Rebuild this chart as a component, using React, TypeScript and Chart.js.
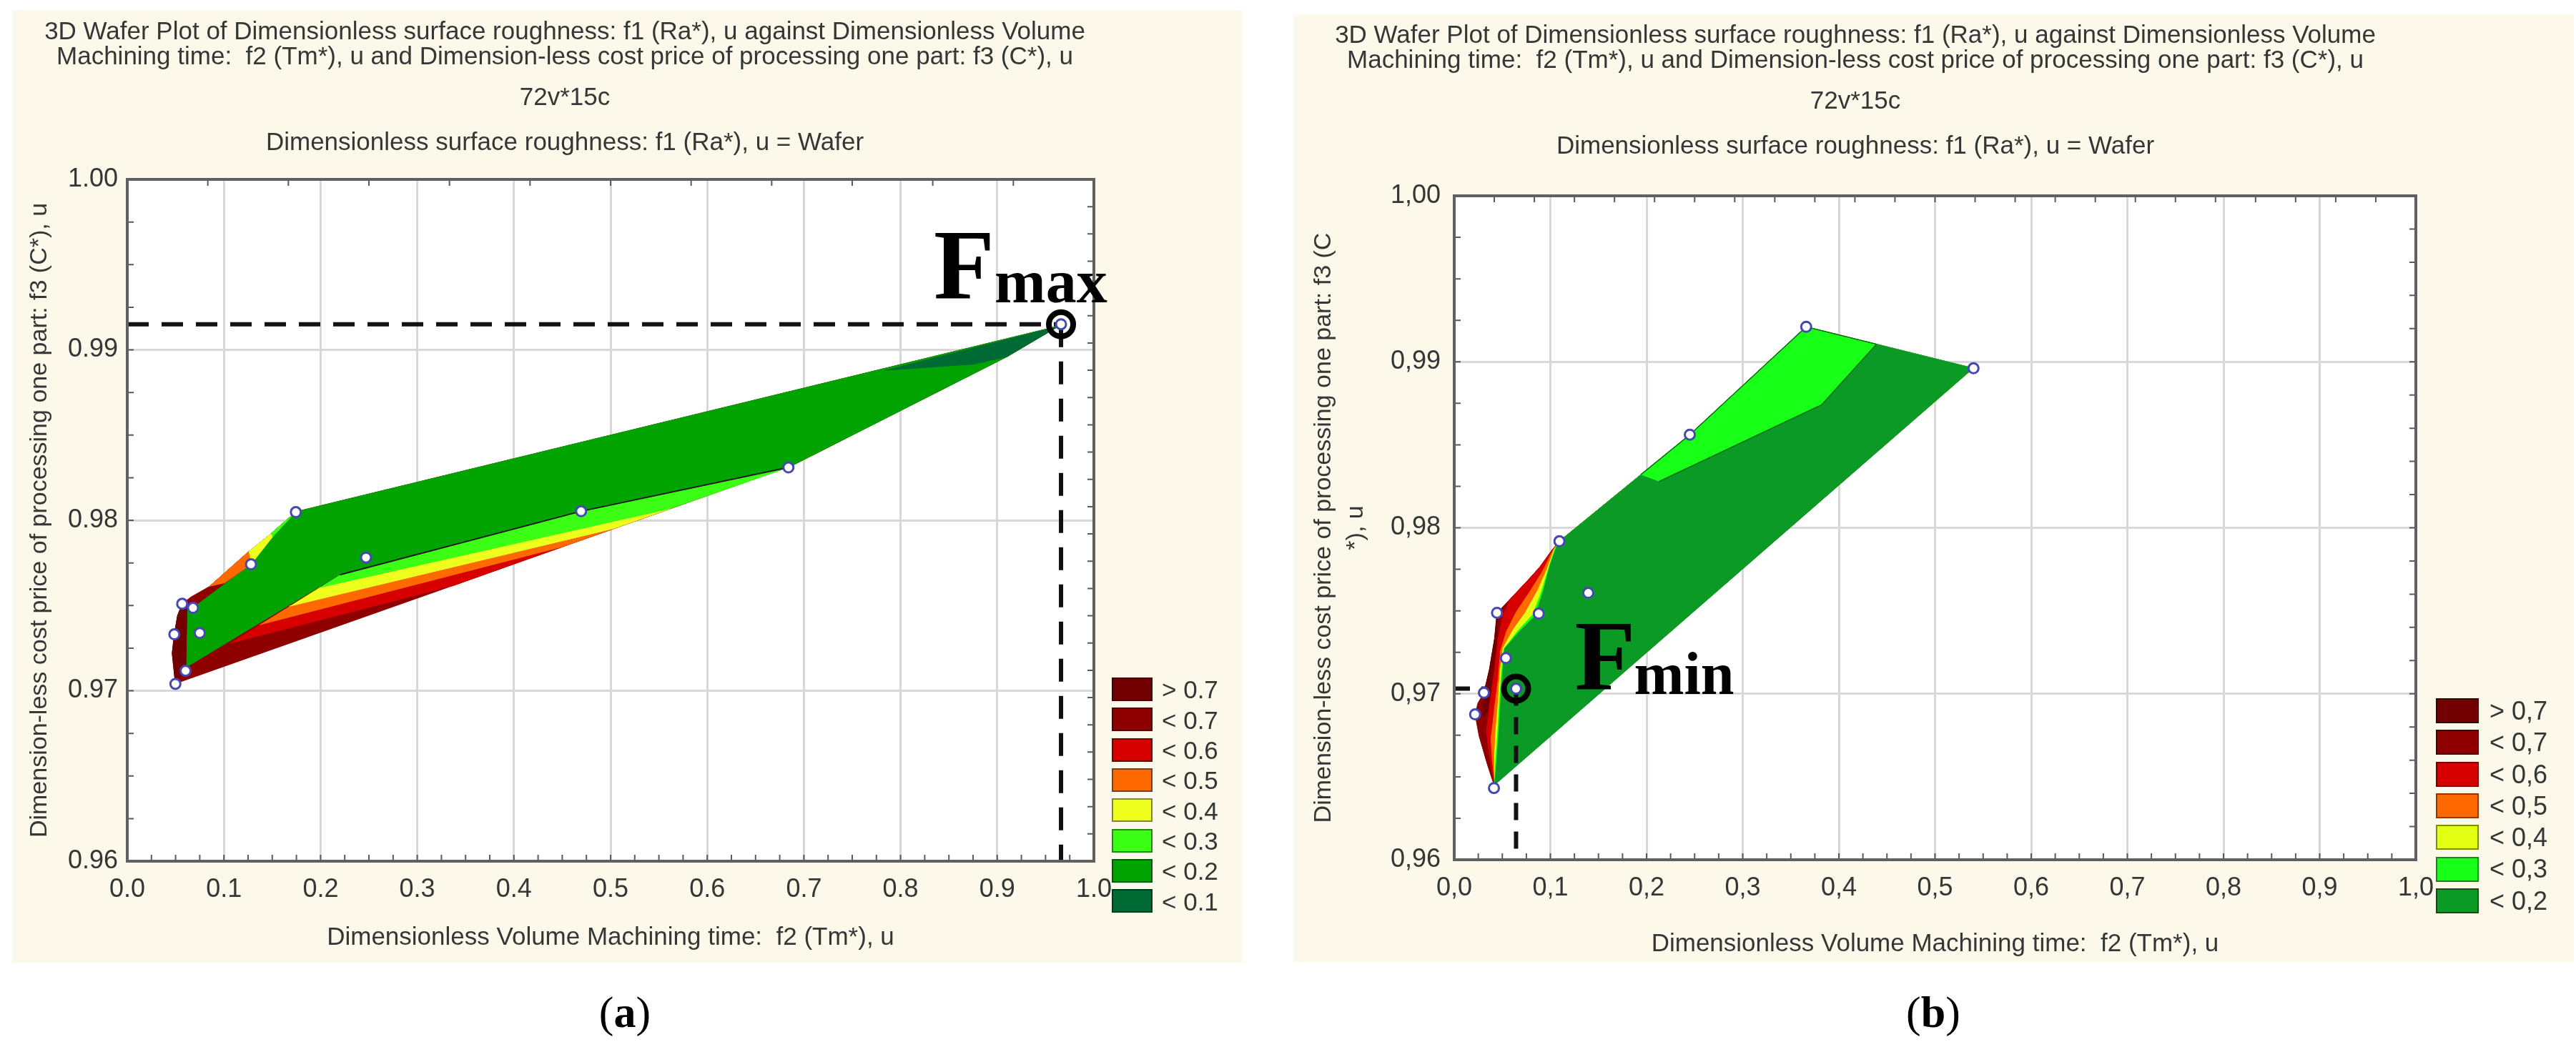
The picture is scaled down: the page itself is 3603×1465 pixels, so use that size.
import React, { useEffect, useRef } from 'react';
import { Chart, registerables } from 'chart.js';

Chart.register(...registerables);

const SANS = '"Liberation Sans", Arial, Helvetica, sans-serif';
const SERIF = '"Liberation Serif", "Times New Roman", Times, serif';
const TEXT = '#363636';
const BEIGE = '#fcf8ea';
const GRID = '#d8d8d8';
Chart.defaults.font.family = SANS;

// ---------------- text ----------------
const TITLE_LINES = [
  '3D Wafer Plot of Dimensionless surface roughness: f1 (Ra*), u against Dimensionless Volume',
  'Machining time:  f2 (Tm*), u and Dimension-less cost price of processing one part: f3 (C*), u',
  '72v*15c',
];
const SUBTITLE = 'Dimensionless surface roughness: f1 (Ra*), u = Wafer';
const X_TITLE = 'Dimensionless Volume Machining time:  f2 (Tm*), u';
const Y_TITLE_A = 'Dimension-less cost price of processing one part: f3 (C*), u';
const Y_TITLE_B = ['Dimension-less cost price of processing one part: f3 (C', '*), u'];

// ---------------- axes ----------------
const X_TICK_VALUES = [0, 0.1, 0.2, 0.3, 0.4, 0.5, 0.6, 0.7, 0.8, 0.9, 1.0];
const Y_TICK_VALUES = [0.96, 0.97, 0.98, 0.99, 1.0];

// ---------------- legends ----------------
const LEGEND_A_LABELS = ['> 0.7', '< 0.7', '< 0.6', '< 0.5', '< 0.4', '< 0.3', '< 0.2', '< 0.1'];
const LEGEND_A_COLORS = ['#720000', '#8e0000', '#d60000', '#ff6a00', '#eeff1e', '#3cff16', '#00a300', '#006a34'];
const LEGEND_B_LABELS = ['> 0,7', '< 0,7', '< 0,6', '< 0,5', '< 0,4', '< 0,3', '< 0,2'];
const LEGEND_B_COLORS = ['#720000', '#8e0000', '#d60000', '#ff6a00', '#e2ff14', '#18ff18', '#0c9a26'];

// ---------------- panel (a) data ----------------
const A_POINTS_X = [0.0498, 0.0603, 0.0487, 0.0568, 0.068, 0.075, 0.128, 0.1744, 0.247, 0.4695, 0.684, 0.966];
const A_POINTS_Y = [0.9704, 0.97117, 0.97331, 0.9751, 0.97486, 0.97339, 0.97742, 0.98048, 0.97781, 0.98053, 0.9831, 0.9915];
const A_FMAX: [number, number] = [0.966, 0.9915];

const A_HULL = [[0.0498, 0.9704], [0.0465, 0.9722], [0.0487, 0.9733], [0.052, 0.9744], [0.0568, 0.9751], [0.066, 0.9755], [0.0846, 0.9761], [0.1253, 0.97815], [0.1485, 0.97921], [0.1744, 0.9805], [0.964, 0.9914], [0.9098, 0.98959], [0.684, 0.9831]];
const A_DARKEST = [[0.0498, 0.9704], [0.0465, 0.9722], [0.0487, 0.9733], [0.052, 0.9744], [0.0568, 0.9751], [0.0612, 0.975], [0.0612, 0.9713]];
const A_RED = [[0.1059, 0.97278], [0.338, 0.97618], [0.45, 0.97845], [0.1369, 0.97387]];
const A_ORANGE = [[0.1369, 0.97387], [0.45, 0.97845], [0.504, 0.97953], [0.1678, 0.97496]];
const A_YELLOW = [[0.1678, 0.97496], [0.504, 0.97953], [0.5624, 0.9807], [0.1987, 0.97605]];
const A_LGREEN = [[0.1987, 0.97605], [0.5624, 0.9807], [0.684, 0.9831], [0.4695, 0.98053], [0.22, 0.9768]];
const A_GREEN = [[0.0614, 0.97137], [0.0625, 0.9747], [0.068, 0.97486], [0.128, 0.97742], [0.15, 0.979], [0.1744, 0.9805], [0.964, 0.9914], [0.9098, 0.98959], [0.684, 0.9831], [0.4695, 0.98053], [0.22, 0.9768]];
const A_SLIVER_ORANGE = [[0.0846, 0.9761], [0.1253, 0.97815], [0.128, 0.97742], [0.1, 0.9763]];
const A_SLIVER_YELLOW = [[0.1253, 0.97815], [0.1485, 0.97921], [0.15, 0.979], [0.128, 0.97742]];
const A_SLIVER_LGREEN = [[0.1485, 0.97921], [0.1744, 0.9805], [0.15, 0.979]];
const A_DARKGREEN = [[0.7838, 0.9888], [0.876, 0.98916], [0.9098, 0.98959], [0.964, 0.9914]];
const A_EDGE = [[0.22, 0.9768], [0.4695, 0.98053], [0.684, 0.9831]];

// ---------------- panel (b) data ----------------
const B_POINTS_X = [0.366, 0.54, 0.245, 0.1094, 0.1394, 0.0445, 0.0879, 0.0537, 0.0309, 0.0643, 0.0217, 0.0413];
const B_POINTS_Y = [0.99211, 0.98961, 0.98561, 0.97919, 0.97608, 0.97488, 0.97483, 0.97215, 0.97006, 0.97031, 0.96876, 0.96432];
const B_FMIN: [number, number] = [0.0643, 0.97031];

const B_HULL = [[0.0415, 0.96449], [0.0346, 0.96571], [0.0259, 0.96744], [0.0217, 0.96876], [0.0247, 0.96945], [0.0309, 0.97006], [0.0366, 0.97146], [0.042, 0.97333], [0.0445, 0.97488], [0.0581, 0.9757], [0.0767, 0.97684], [0.0891, 0.97764], [0.1015, 0.97864], [0.1094, 0.97919], [0.245, 0.98561], [0.366, 0.99211], [0.54, 0.98961]];
const B_DARKEST = [[0.0309, 0.97006], [0.0366, 0.97146], [0.042, 0.97333], [0.0445, 0.97488], [0.0445, 0.9735], [0.0405, 0.9712], [0.0365, 0.969], [0.03, 0.9686]];
const B_TAIL = [[0.245, 0.98561], [0.366, 0.99211], [0.54, 0.98961]];
const B_RED_EDGE = [[0.0415, 0.96456], [0.0366, 0.96629], [0.0333, 0.96772], [0.0371, 0.96945], [0.042, 0.97146], [0.0457, 0.97333], [0.0507, 0.97476], [0.0581, 0.9757], [0.0767, 0.97685], [0.0891, 0.97764], [0.1015, 0.97864], [0.1094, 0.97919]];
const B_ORANGE_EDGE = [[0.042, 0.9647], [0.0395, 0.96614], [0.0383, 0.96729], [0.042, 0.96916], [0.0457, 0.97088], [0.0482, 0.97261], [0.0544, 0.97376], [0.0643, 0.97491], [0.0792, 0.9762], [0.0916, 0.97735], [0.1027, 0.97864], [0.1094, 0.97919]];
const B_YELLOW_EDGE = [[0.042, 0.96463], [0.042, 0.96629], [0.0432, 0.96772], [0.0457, 0.96945], [0.0475, 0.97117], [0.0507, 0.97275], [0.0618, 0.9739], [0.0742, 0.97491], [0.0866, 0.9762], [0.0965, 0.97749], [0.104, 0.97871], [0.1094, 0.97919]];
const B_LGREEN_EDGE = [[0.042, 0.96456], [0.0432, 0.96614], [0.0452, 0.96772], [0.047, 0.96945], [0.049, 0.97117], [0.0514, 0.97268], [0.0668, 0.97383], [0.0817, 0.97476], [0.0903, 0.97606], [0.0978, 0.97749], [0.1052, 0.97879], [0.1094, 0.97919]];
const B_GREEN_EDGE = [[0.042, 0.96449], [0.0445, 0.96614], [0.0465, 0.96772], [0.0482, 0.96945], [0.0502, 0.97117], [0.0527, 0.97275], [0.068, 0.97376], [0.0841, 0.97469], [0.0928, 0.9762], [0.0998, 0.97778], [0.1065, 0.97886], [0.1094, 0.97919]];
const B_LIGHT = [[0.194, 0.9832], [0.245, 0.98561], [0.366, 0.99211], [0.439, 0.99106], [0.382, 0.98741], [0.213, 0.98279]];

type Pt = number[];

interface PolySpec { pts: Pt[]; color: string; order: number; border?: string; bw?: number; }
interface LineSpec { pts: Pt[]; color: string; width: number; dash: number[]; order: number; }
interface PanelSpec {
  xFmt: (v: number) => string;
  yFmt: (v: number) => string;
  yTitle: string | string[];
  yTitleLH: number;
  polygons: PolySpec[];
  lines: LineSpec[];
  px: number[];
  py: number[];
  ring: [number, number];
  padding: { left: number; top: number; right: number; bottom: number };
  yWidth: number;
  xHeight: number;
  yTickPad: number;
  xTickPad: number;
  xTitlePad: number;
  minor: { bottom: number; top: number; left: number; right: number };
  ann: { main: string; sub: string; dxM: number; dyM: number; dxS: number; dyS: number; sizeM: number; sizeS: number };
}

const bgPlugin = {
  id: 'plotBg',
  beforeDraw(chart: any) {
    const { ctx, chartArea } = chart;
    ctx.save();
    ctx.fillStyle = '#ffffff';
    ctx.fillRect(chartArea.left, chartArea.top, chartArea.right - chartArea.left, chartArea.bottom - chartArea.top);
    ctx.restore();
  },
};

function framePlugin(spec: PanelSpec) {
  return {
    id: 'frame',
    afterDraw(chart: any) {
      const { ctx, chartArea } = chart;
      const { left, right, top, bottom } = chartArea;
      const xs = chart.scales.x;
      const ys = chart.scales.y;
      ctx.save();
      ctx.strokeStyle = '#5a5a5a';
      ctx.lineWidth = 2;
      const L = 9;
      ctx.beginPath();
      for (let k = 0; k * spec.minor.bottom <= 1 + 1e-9; k++) {
        const p = xs.getPixelForValue(k * spec.minor.bottom);
        ctx.moveTo(p, bottom); ctx.lineTo(p, bottom - L);
      }
      for (let k = 0; k * spec.minor.top <= 1 + 1e-9; k++) {
        const p = xs.getPixelForValue(k * spec.minor.top);
        ctx.moveTo(p, top); ctx.lineTo(p, top + L);
      }
      for (let k = 0; 0.96 + k * spec.minor.left <= 1 + 1e-9; k++) {
        const p = ys.getPixelForValue(0.96 + k * spec.minor.left);
        ctx.moveTo(left, p); ctx.lineTo(left + L, p);
      }
      for (let k = 0; 0.96 + k * spec.minor.right <= 1 + 1e-9; k++) {
        const p = ys.getPixelForValue(0.96 + k * spec.minor.right);
        ctx.moveTo(right, p); ctx.lineTo(right - L, p);
      }
      ctx.stroke();
      ctx.strokeStyle = '#606060';
      ctx.lineWidth = 4;
      ctx.strokeRect(left, top, right - left, bottom - top);
      ctx.restore();
    },
  };
}

function annPlugin(spec: PanelSpec) {
  return {
    id: 'fAnnotation',
    afterDraw(chart: any) {
      const { ctx } = chart;
      const px = chart.scales.x.getPixelForValue(spec.ring[0]);
      const py = chart.scales.y.getPixelForValue(spec.ring[1]);
      ctx.save();
      ctx.fillStyle = '#000';
      ctx.textAlign = 'left';
      ctx.textBaseline = 'alphabetic';
      ctx.font = `bold ${spec.ann.sizeM}px ${SERIF}`;
      ctx.fillText(spec.ann.main, px + spec.ann.dxM, py + spec.ann.dyM);
      ctx.font = `bold ${spec.ann.sizeS}px ${SERIF}`;
      ctx.fillText(spec.ann.sub, px + spec.ann.dxS, py + spec.ann.dyS);
      ctx.restore();
    },
  };
}

const toXY = (pts: Pt[]) => pts.map(([x, y]) => ({ x, y }));

function buildConfig(spec: PanelSpec): any {
  const datasets: any[] = [];
  spec.polygons.forEach((p) => datasets.push({
    type: 'line',
    data: toXY(p.pts),
    backgroundColor: p.color,
    borderColor: p.border ?? p.color,
    borderWidth: p.bw ?? 1,
    pointRadius: 0,
    fill: 'shape',
    tension: 0,
    order: p.order,
  }));
  spec.lines.forEach((l) => datasets.push({
    type: 'line',
    data: toXY(l.pts),
    borderColor: l.color,
    borderWidth: l.width,
    borderDash: l.dash,
    borderCapStyle: 'butt',
    pointRadius: 0,
    fill: false,
    tension: 0,
    order: l.order,
  }));
  datasets.push({
    type: 'line',
    data: [{ x: spec.ring[0], y: spec.ring[1] }],
    showLine: false,
    pointRadius: 17,
    pointBorderWidth: 8,
    pointBorderColor: '#000',
    pointBackgroundColor: 'rgba(0,0,0,0)',
    order: 3,
  });
  datasets.push({
    type: 'line',
    data: spec.px.map((x, i) => ({ x, y: spec.py[i] })),
    showLine: false,
    pointRadius: 7,
    pointBorderWidth: 3,
    pointBorderColor: '#4646b4',
    pointBackgroundColor: '#ffffff',
    order: 1,
  });

  return {
    type: 'line',
    data: { datasets },
    options: {
      animation: false,
      responsive: false,
      events: [],
      layout: { padding: spec.padding },
      plugins: {
        legend: { display: false },
        tooltip: { enabled: false },
        title: { display: false },
        filler: { propagate: false },
      },
      scales: {
        x: {
          type: 'linear',
          min: 0,
          max: 1,
          afterBuildTicks: (s: any) => { s.ticks = X_TICK_VALUES.map((v) => ({ value: v })); },
          afterFit: (s: any) => { s.height = spec.xHeight; },
          ticks: {
            callback: (v: any) => spec.xFmt(Number(v)),
            font: { size: 36, family: SANS },
            color: TEXT,
            padding: spec.xTickPad,
            maxRotation: 0,
            autoSkip: false,
          },
          grid: { color: GRID, lineWidth: 3, drawTicks: false },
          border: { display: false },
          title: {
            display: true,
            text: X_TITLE,
            font: { size: 35, family: SANS },
            color: TEXT,
            padding: { top: 0, bottom: spec.xTitlePad },
          },
        },
        y: {
          type: 'linear',
          min: 0.96,
          max: 1.0,
          afterBuildTicks: (s: any) => { s.ticks = Y_TICK_VALUES.map((v) => ({ value: v })); },
          afterFit: (s: any) => { s.width = spec.yWidth; },
          ticks: {
            callback: (v: any) => spec.yFmt(Number(v)),
            font: { size: 36, family: SANS },
            color: TEXT,
            padding: spec.yTickPad,
            autoSkip: false,
          },
          grid: { color: GRID, lineWidth: 3, drawTicks: false },
          border: { display: false },
          title: {
            display: true,
            text: spec.yTitle,
            font: { size: 34, family: SANS, lineHeight: spec.yTitleLH },
            color: TEXT,
            padding: { top: 0, bottom: 0 },
          },
        },
      },
    },
    plugins: [bgPlugin, framePlugin(spec), annPlugin(spec)],
  };
}

const dotFmt1 = (v: number) => v.toFixed(1);
const dotFmt2 = (v: number) => v.toFixed(2);
const comFmt1 = (v: number) => v.toFixed(1).replace('.', ',');
const comFmt2 = (v: number) => v.toFixed(2).replace('.', ',');

const SPEC_A: PanelSpec = {
  xFmt: dotFmt1,
  yFmt: dotFmt2,
  yTitle: Y_TITLE_A,
  yTitleLH: 1.2,
  polygons: [
    { pts: A_HULL, color: LEGEND_A_COLORS[1], order: 40 },
    { pts: A_DARKEST, color: LEGEND_A_COLORS[0], order: 39 },
    { pts: A_RED, color: LEGEND_A_COLORS[2], order: 38 },
    { pts: A_ORANGE, color: LEGEND_A_COLORS[3], order: 37 },
    { pts: A_YELLOW, color: LEGEND_A_COLORS[4], order: 36 },
    { pts: A_LGREEN, color: LEGEND_A_COLORS[5], order: 35 },
    { pts: A_GREEN, color: LEGEND_A_COLORS[6], order: 34 },
    { pts: A_SLIVER_ORANGE, color: LEGEND_A_COLORS[3], order: 33 },
    { pts: A_SLIVER_YELLOW, color: LEGEND_A_COLORS[4], order: 33 },
    { pts: A_SLIVER_LGREEN, color: LEGEND_A_COLORS[5], order: 33 },
    { pts: A_DARKGREEN, color: LEGEND_A_COLORS[7], order: 32 },
  ],
  lines: [
    { pts: A_EDGE, color: '#1a1a1a', width: 2, dash: [], order: 31 },
    { pts: [[0, A_FMAX[1]], [A_FMAX[0], A_FMAX[1]]], color: '#111', width: 6, dash: [30, 18], order: 5 },
    { pts: [[A_FMAX[0], A_FMAX[1]], [A_FMAX[0], 0.96]], color: '#111', width: 6, dash: [32, 20], order: 5 },
  ],
  px: A_POINTS_X,
  py: A_POINTS_Y,
  ring: A_FMAX,
  padding: { left: 18, top: 237, right: 207, bottom: 0 },
  yWidth: 143,
  xHeight: 142,
  yTickPad: 13,
  xTickPad: 18,
  xTitlePad: 14,
  minor: { bottom: 0.025, top: 1 / 12, left: 0.0025, right: 0.0016 },
  ann: { main: 'F', sub: 'max', dxM: -178, dyM: -37, dxS: -93, dyS: -31, sizeM: 139, sizeS: 86 },
};

const withTail = (edge: Pt[]) => [...edge, ...B_TAIL];

const SPEC_B: PanelSpec = {
  xFmt: comFmt1,
  yFmt: comFmt2,
  yTitle: Y_TITLE_B,
  yTitleLH: 1.32,
  polygons: [
    { pts: B_HULL, color: LEGEND_B_COLORS[1], order: 40 },
    { pts: B_DARKEST, color: LEGEND_B_COLORS[0], order: 39 },
    { pts: withTail(B_RED_EDGE), color: LEGEND_B_COLORS[2], order: 38 },
    { pts: withTail(B_ORANGE_EDGE), color: LEGEND_B_COLORS[3], order: 37 },
    { pts: withTail(B_YELLOW_EDGE), color: LEGEND_B_COLORS[4], order: 36 },
    { pts: withTail(B_LGREEN_EDGE), color: LEGEND_B_COLORS[5], order: 35 },
    { pts: withTail(B_GREEN_EDGE), color: LEGEND_B_COLORS[6], order: 34 },
    { pts: B_LIGHT, color: LEGEND_B_COLORS[5], border: '#0d6a18', bw: 1.5, order: 33 },
  ],
  lines: [
    { pts: [[0, B_FMIN[1]], [B_FMIN[0], B_FMIN[1]]], color: '#111', width: 6, dash: [22, 16], order: 50 },
    { pts: [[B_FMIN[0], B_FMIN[1]], [B_FMIN[0], 0.96]], color: '#111', width: 6, dash: [24, 16], order: 5 },
  ],
  px: B_POINTS_X,
  py: B_POINTS_Y,
  ring: B_FMIN,
  padding: { left: 20, top: 254, right: 221, bottom: 0 },
  yWidth: 205,
  xHeight: 143,
  yTickPad: 19,
  xTickPad: 18,
  xTitlePad: 4,
  minor: { bottom: 0.025, top: 1 / 24, left: 0.0025, right: 0.002 },
  ann: { main: 'F', sub: 'min', dxM: 82, dyM: 0, dxS: 165, dyS: 7, sizeM: 139, sizeS: 84 },
};

function ChartCanvas({ spec, width, height }: { spec: PanelSpec; width: number; height: number }) {
  const ref = useRef<HTMLCanvasElement>(null);
  useEffect(() => {
    const chart = new Chart(ref.current as HTMLCanvasElement, buildConfig(spec));
    return () => chart.destroy();
  }, [spec]);
  return <canvas ref={ref} width={width} height={height} style={{ display: 'block', width, height }} />;
}

function Txt({ cx, x, baseline, size, children, family = SANS, color = TEXT }: any) {
  const style: any = {
    position: 'absolute',
    top: baseline - 0.8465 * size,
    fontSize: size,
    lineHeight: `${size}px`,
    fontFamily: family,
    color,
    whiteSpace: 'pre',
  };
  if (cx !== undefined) {
    style.left = cx;
    style.transform = 'translateX(-50%)';
  } else {
    style.left = x;
  }
  return <div style={style}>{children}</div>;
}

function Legend({ labels, colors, x, top0, step, w, h, textX, size }: any) {
  return (
    <>
      {labels.map((lab: string, i: number) => (
        <React.Fragment key={lab + i}>
          <div
            style={{
              position: 'absolute',
              left: x,
              top: top0 + i * step,
              width: w,
              height: h,
              background: colors[i],
              border: '2px solid rgba(0,0,0,0.45)',
              boxSizing: 'border-box',
            }}
          />
          <Txt x={textX} baseline={top0 + i * step + h / 2 + 0.36 * size} size={size}>{lab}</Txt>
        </React.Fragment>
      ))}
    </>
  );
}

function Titles({ cx, base }: { cx: number; base: number[] }) {
  return (
    <>
      {TITLE_LINES.map((t, i) => (
        <Txt key={i} cx={cx} baseline={base[i]} size={35}>{t}</Txt>
      ))}
      <Txt cx={cx} baseline={base[3]} size={35}>{SUBTITLE}</Txt>
    </>
  );
}

export default function App() {
  useEffect(() => {
    document.body.style.margin = '0';
  }, []);
  return (
    <div style={{ position: 'absolute', left: 0, top: 0, width: 3603, height: 1465, background: '#ffffff', overflow: 'hidden' }}>
      <div style={{ position: 'absolute', left: 17, top: 14, width: 1720, height: 1333, background: BEIGE }}>
        <ChartCanvas spec={SPEC_A} width={1720} height={1333} />
      </div>
      <div style={{ position: 'absolute', left: 1809, top: 20, width: 1791, height: 1326, background: BEIGE }}>
        <ChartCanvas spec={SPEC_B} width={1791} height={1326} />
      </div>

      <Titles cx={790} base={[55, 90, 147, 210]} />
      <Titles cx={2595} base={[60, 95, 152, 215]} />

      <Legend labels={LEGEND_A_LABELS} colors={LEGEND_A_COLORS} x={1555} top0={948} step={42.3} w={57} h={33} textX={1625} size={35} />
      <Legend labels={LEGEND_B_LABELS} colors={LEGEND_B_COLORS} x={3407} top0={977} step={44.3} w={60} h={35} textX={3482} size={36} />

      <div style={{ position: 'absolute', left: 874, top: 1385, transform: 'translateX(-50%)', fontFamily: SERIF, fontSize: 62, lineHeight: '62px', color: '#000' }}>
        (<b>a</b>)
      </div>
      <div style={{ position: 'absolute', left: 2704, top: 1385, transform: 'translateX(-50%)', fontFamily: SERIF, fontSize: 62, lineHeight: '62px', color: '#000' }}>
        (<b>b</b>)
      </div>
    </div>
  );
}
